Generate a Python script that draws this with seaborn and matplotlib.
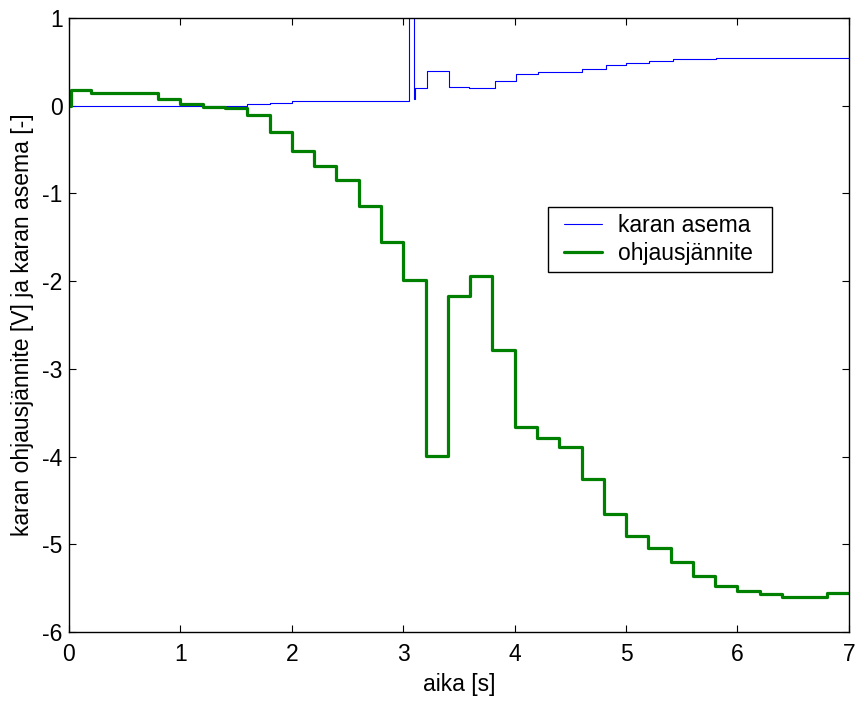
import matplotlib
matplotlib.use("Agg")
import matplotlib.pyplot as plt
from matplotlib.legend_handler import HandlerLine2D
from matplotlib.lines import Line2D
import seaborn as sns
import pandas as pd

# karan asema (position), step data
pos_t = [0.0, 1.6, 1.8, 2.0, 3.05, 3.10, 3.11, 3.21, 3.41, 3.59, 3.82, 4.01, 4.21,
         4.60, 4.82, 5.0, 5.21, 5.42, 5.81, 7.0]
pos_y = [0.0, 0.015, 0.026, 0.056, 2.5, 0.08, 0.197, 0.40, 0.21, 0.20, 0.28, 0.36, 0.38,
         0.42, 0.46, 0.49, 0.505, 0.53, 0.546, 0.546]

# ohjausjännite (control voltage), step data
u_t = [0.0, 0.02, 0.2, 0.8, 1.0, 1.2, 1.4, 1.6, 1.8, 2.0, 2.2, 2.4, 2.6, 2.8, 3.0,
       3.2, 3.4, 3.6, 3.8, 4.0, 4.2, 4.4, 4.6, 4.8, 5.0, 5.2, 5.4, 5.6, 5.8, 6.0,
       6.2, 6.4, 6.6, 6.8, 7.0]
u_y = [0.0, 0.175, 0.14, 0.08, 0.015, -0.01, -0.025, -0.105, -0.30, -0.52, -0.685,
       -0.85, -1.14, -1.55, -1.99, -3.99, -2.17, -1.94, -2.78, -3.66, -3.79, -3.89,
       -4.26, -4.65, -4.90, -5.04, -5.20, -5.36, -5.47, -5.53, -5.57, -5.60, -5.60,
       -5.55, -5.55]

x_ticks = [0, 1, 2, 3, 4, 5, 6, 7]
y_ticks = [-6, -5, -4, -3, -2, -1, 0, 1]

sns.set_theme(style="white")
plt.rcParams['font.family'] = ['Liberation Sans', 'DejaVu Sans']
plt.rcParams['text.color'] = 'black'
plt.rcParams['axes.labelcolor'] = 'black'
plt.rcParams['xtick.color'] = 'black'
plt.rcParams['ytick.color'] = 'black'

FS = 16.5

fig = plt.figure(figsize=(8.58, 7.02), dpi=100)
ax = fig.add_axes([0.0804, 0.0997, 0.909, 0.8747])

df_pos = pd.DataFrame({"t": pos_t, "y": pos_y})
df_u = pd.DataFrame({"t": u_t, "y": u_y})

sns.lineplot(data=df_pos, x="t", y="y", ax=ax, color="#0000ff", linewidth=0.8,
             drawstyle="steps-post", estimator=None, sort=False, label="karan asema")
sns.lineplot(data=df_u, x="t", y="y", ax=ax, color="#008000", linewidth=2.3,
             drawstyle="steps-post", estimator=None, sort=False, label="ohjausjännite")

ax.set_xlim(0, 7)
ax.set_ylim(-6, 1)
ax.set_xticks(x_ticks)
ax.set_yticks(y_ticks)
ax.set_xticklabels([str(v) for v in x_ticks])
ax.set_yticklabels([str(v) for v in y_ticks])
ax.tick_params(direction="in", length=5, width=0.8, top=True, right=True,
               bottom=True, left=True, labelsize=FS, colors="black")
ax.tick_params(axis="x", pad=8)
ax.tick_params(axis="y", pad=4.5)
for s in ax.spines.values():
    s.set_color("black")
    s.set_linewidth(1.0)

ax.set_xlabel("aika [s]", fontsize=FS, labelpad=5, color="black")
ax.set_ylabel("karan ohjausjännite [V] ja karan asema [-]", fontsize=FS,
              labelpad=6, color="black")

handles, labels = ax.get_legend_handles_labels()
labels = [lab + "  " for lab in labels]
leg = ax.legend(handles, labels, loc="upper left", bbox_to_anchor=(0.614, 0.692),
                fontsize=FS, frameon=True, fancybox=False, edgecolor="black",
                framealpha=1, handlelength=2.05, handletextpad=0.7, borderpad=0.3,
                labelspacing=0.22, borderaxespad=0,
                handler_map={Line2D: HandlerLine2D(xpad=0.39)})
leg.get_frame().set_linewidth(1.0)
for txt in leg.get_texts():
    txt.set_color("black")

fig.savefig("out.png", dpi=100)
